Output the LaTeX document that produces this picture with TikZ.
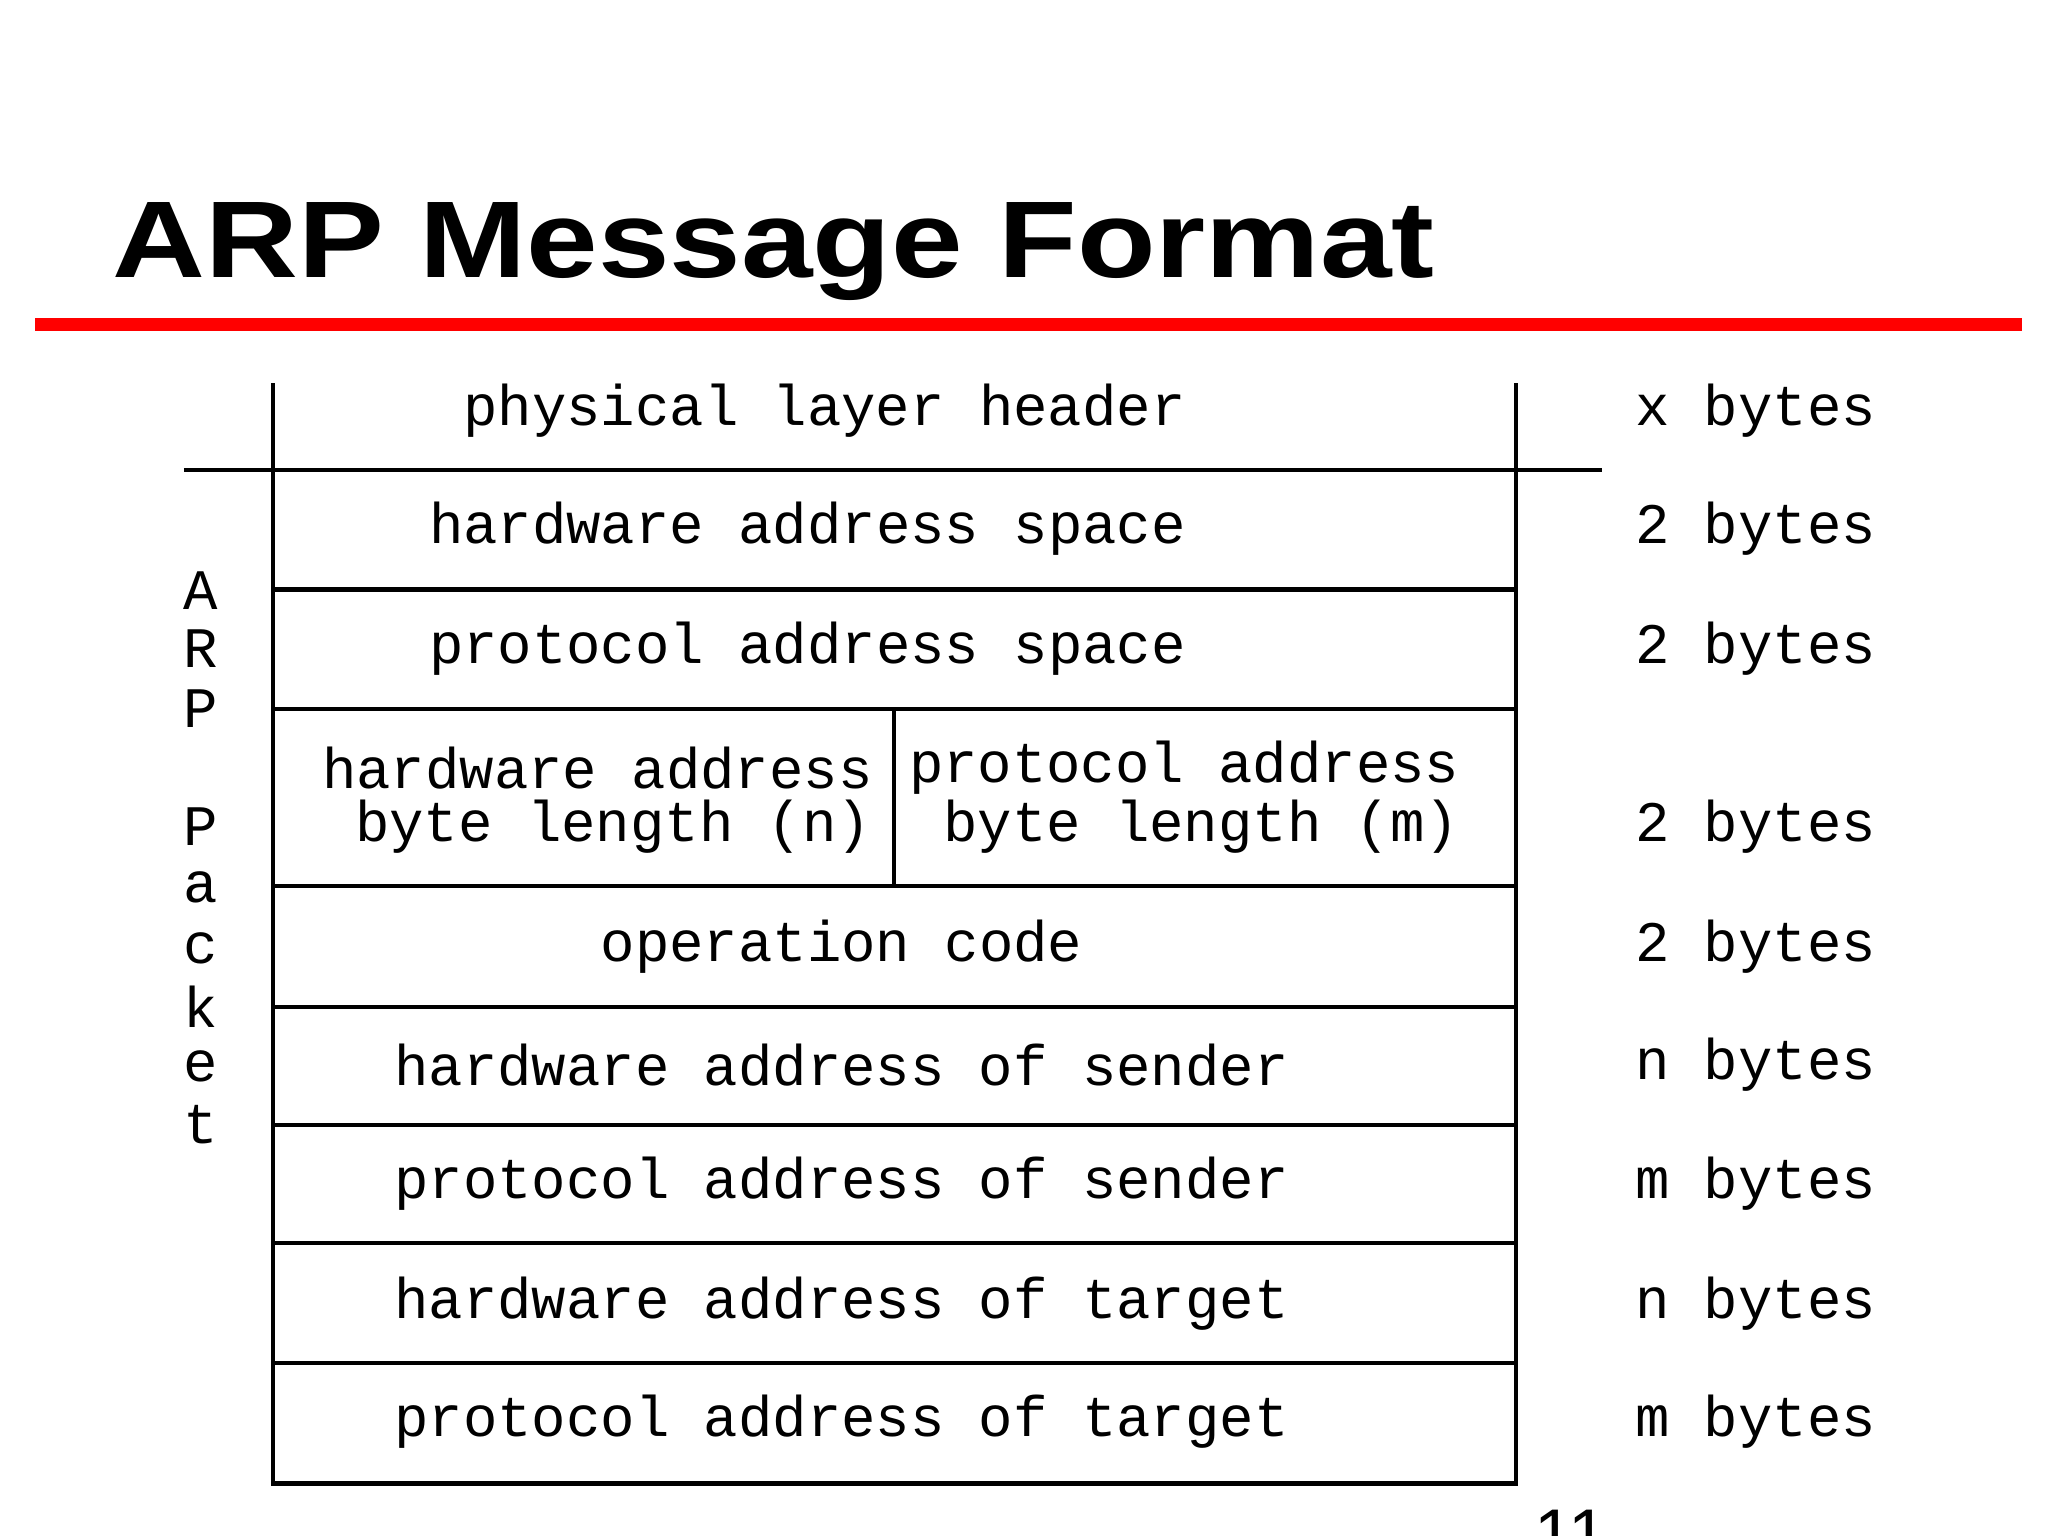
\documentclass[tikz,border=0pt]{standalone}
\usepackage{fontspec}
\setmainfont{Liberation Sans}
\newfontfamily\monof{Liberation Mono}
\begin{document}
\begin{tikzpicture}[x=0.013128cm,y=-0.013128cm,
  mono/.style={font=\monof\fontsize{16.3}{18}\selectfont,inner sep=0pt},
  rule/.style={line width=1.2pt,black}]
\useasboundingbox (0,0) rectangle (1560,1170);
\fill[white] (0,0) rectangle (1560,1170);
\node[font=\bfseries\fontsize{31}{36}\selectfont,anchor=base west,inner sep=0pt,xscale=1.18] (title) at (85,211) {ARP Message Format};
\draw[red,line width=3.6pt] (27,247) -- (1540,247);
% table
\draw[rule] (208,292) -- (208,1130) -- (1155,1130) -- (1155,292);
\draw[rule] (140,358) -- (1220,358);
\foreach \yy in {449,540,675,767,857,947,1038} \draw[rule] (208,\yy) -- (1155,\yy);
\draw[rule] (681,540) -- (681,675);
\node[mono] (r1) at (628,313) {physical layer header};
\node[mono] (r2) at (615,403) {hardware address space};
\node[mono] (r3) at (615,494) {protocol address space};
\node[mono] (r4a) at (455,585) {hardware address};
\node[mono] (r4b) at (467,630) {byte length (n)};
\node[mono] (r4c) at (902,585) {protocol address};
\node[mono] (r4d) at (915,630) {byte length (m)};
\node[mono] (r5) at (641,721) {operation code};
\node[mono] (r6) at (641,811) {hardware address of sender};
\node[mono] (r7) at (641,902) {protocol address of sender};
\node[mono] (r8) at (641,993) {hardware address of target};
\node[mono] (r9) at (641,1083) {protocol address of target};
% sizes
\foreach \t/\yy/\n in {x/313/s1,2/403/s2,2/494/s3,2/630/s4,2/721/s5,n/811/s6,m/902/s7,n/993/s8,m/1083/s9}
  \node[mono,anchor=west] (\n) at (1245,\yy) {\t\ bytes};
% vertical label
\foreach \c/\yy/\n in {A/450/l1,R/494/l2,P/540/l3,P/630/l4,a/676/l5,c/722/l6,k/767/l7,e/812/l8,t/857/l9}
  \node[mono] (\n) at (153,\yy) {\c};
\node[font=\fontsize{20}{24}\selectfont,anchor=north,inner sep=0pt] (pg) at (1197,1150) {11};
\end{tikzpicture}
\end{document}
